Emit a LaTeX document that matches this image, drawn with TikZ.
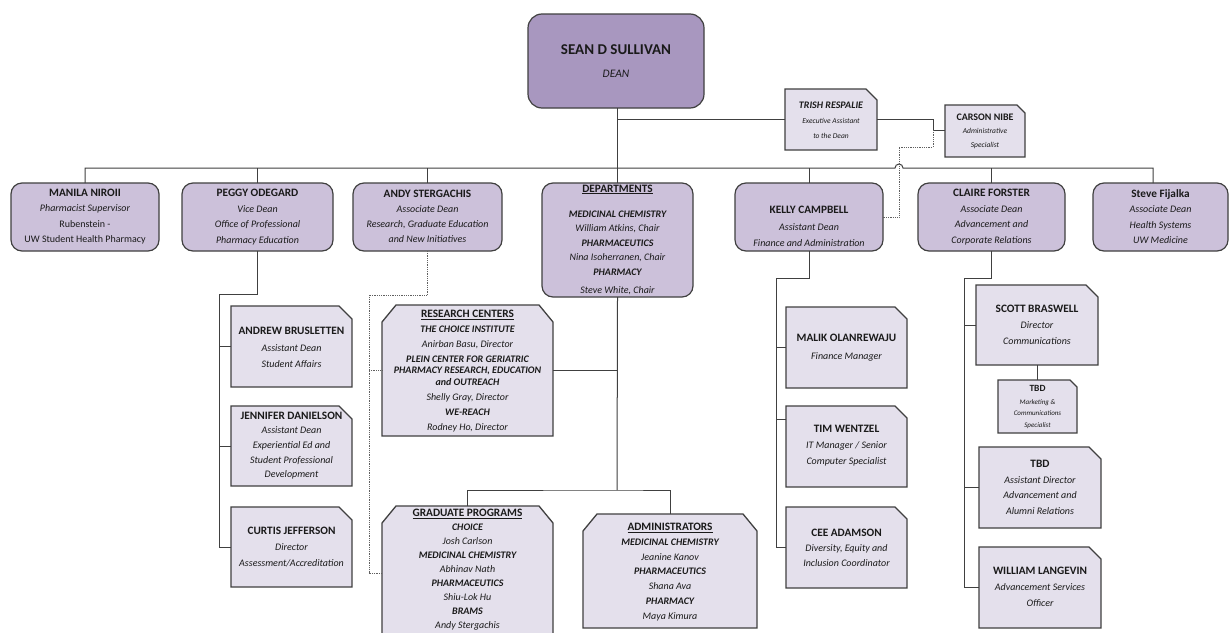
\documentclass[tikz,border=0pt]{standalone}
\usepackage{fontspec}
\setmainfont{Carlito}
\usetikzlibrary{backgrounds}
\definecolor{deanfill}{HTML}{A897BF}
\definecolor{topfill}{HTML}{CCC1DA}
\definecolor{lowfill}{HTML}{E4E0EC}
\definecolor{edge}{HTML}{404040}
\definecolor{ink}{HTML}{1A1A1A}
\newcommand\mkbox[6]{\node[#6, minimum width={#4-#2}, minimum height={#5-#3}] (#1) at ({(#2+#4)/2},{(#3+#5)/2}) {};}
\newcommand\nmtxt[1]{{\fontsize{11.3}{11}\selectfont\bfseries #1}}
\newcommand\roletxt[1]{{\itshape #1}}
\newcommand\hdtxt[1]{{\bfseries\itshape #1}}
\newcommand\uhtxt[1]{{\fontsize{11.3}{11}\selectfont\bfseries\underline{#1}}}
\tikzset{
  base/.style={inner sep=0pt, outer sep=0pt},
  topbox/.style={base, draw=edge, fill=topfill, line width=1.2pt, rounded corners=11pt},
  deanbox/.style={base, draw=edge, fill=deanfill, line width=1.2pt, rounded corners=14pt},
  ghost/.style={base},
  lowshape/.style={draw=edge, fill=lowfill, line width=1.3pt, line join=miter},
  txt/.style={align=center, text=ink, inner sep=0pt, font=\fontsize{10}{15.5}\selectfont},
  deptxt/.style={align=center, text=ink, inner sep=0pt, font=\fontsize{10}{14.7}\selectfont},
  smalltxt/.style={align=center, text=ink, inner sep=0pt, font=\fontsize{7.5}{15}\selectfont},
  link/.style={draw=edge, line width=1pt},
  dotlink/.style={draw=gray!75!black, line width=0.8pt, densely dotted},
}
\begin{document}
\begin{tikzpicture}[x=1pt,y=-1pt]
\useasboundingbox (0,0) rectangle (1230,632);
% ---- boxes ----
\mkbox{dean}{528}{14}{704}{108}{deanbox}
\mkbox{trish}{785}{89}{877}{150}{ghost}
\mkbox{carson}{945}{105}{1025}{157}{ghost}
\mkbox{manila}{11}{183}{159}{251}{topbox}
\mkbox{peggy}{182}{183}{333}{251}{topbox}
\mkbox{andy}{353}{183}{502}{251}{topbox}
\mkbox{dept}{542}{183}{693}{297}{topbox}
\mkbox{kelly}{735}{183}{883}{251}{topbox}
\mkbox{claire}{918}{183}{1065}{251}{topbox}
\mkbox{steve}{1093}{183}{1228}{251}{topbox}
\mkbox{andrew}{231}{306}{352}{387}{ghost}
\mkbox{jennifer}{231}{406}{352}{486}{ghost}
\mkbox{curtis}{231}{507}{352}{587}{ghost}
\mkbox{research}{382}{305}{553}{436}{ghost}
\mkbox{grad}{382}{506}{553}{640}{ghost}
\mkbox{admin}{583}{514}{757}{628}{ghost}
\mkbox{malik}{786}{307}{907}{388}{ghost}
\mkbox{tim}{786}{406}{907}{487}{ghost}
\mkbox{cee}{786}{507}{907}{588}{ghost}
\mkbox{scott}{976}{285}{1098}{365}{ghost}
\mkbox{tbds}{998}{380}{1077}{433}{ghost}
\mkbox{tbd}{979}{447}{1101}{528}{ghost}
\mkbox{william}{979}{547}{1101}{628}{ghost}
% ---- shaped boxes on background ----
\begin{scope}[on background layer]
\fill[white] (0,0) rectangle (1230,632);
\foreach \n/\c in {trish/11,carson/8,andrew/13,jennifer/13,curtis/13,malik/12,tim/12,cee/12,scott/12,tbds/7,tbd/12,william/12}
  \draw[lowshape] (\n.south west) -- (\n.north west) -- ([xshift=-\c pt]\n.north east) -- ([yshift=-\c pt]\n.north east) -- (\n.south east) -- cycle;
\foreach \n in {research,grad,admin}
  \draw[lowshape] (\n.south west) -- ([yshift=-17pt]\n.north west) -- ([xshift=14pt]\n.north west) -- ([xshift=-14pt]\n.north east) -- ([yshift=-17pt]\n.north east) -- (\n.south east) -- cycle;
\end{scope}
% ---- coordinates ----
\coordinate (bus) at (0,168);
\coordinate (hop) at (895,168);
\coordinate (sd) at (1153,183);
\coordinate (tc) at (933,130);
\coordinate (d2) at (899,147);
\coordinate (a1) at (369,295);
\coordinate (pk) at (219,294);
\coordinate (kk) at (776,278);
\coordinate (ck) at (964,278);
\coordinate (dj) at (617,490);
\coordinate (ty) at (0,419);
% ---- connectors ----
\draw[link] (manila.north) -- (manila.north |- bus) -- (hop) arc[start angle=180, end angle=0, radius=4pt] -- (sd |- bus) -- (sd);
\foreach \n in {peggy,andy,kelly,claire}
  \draw[link] (\n.north) -- (\n.north |- bus);
\draw[link] (dean.south -| dept.north) -- (dept.north);
\draw[link] (dean.south -| dept.north) |- (trish.west);
\draw[link] (trish.east) -| (tc) -- (carson.west |- tc);
\draw[dotlink] (tc) |- (d2) |- (kelly.east);
\draw[dotlink] (andy.south) |- (a1) |- (grad.west);
\draw[dotlink] (a1 |- research.west) -- (research.west);
\draw[link] (peggy.south) |- (pk) |- (curtis.west);
\draw[link] (pk |- andrew.west) -- (andrew.west);
\draw[link] (pk |- jennifer.west) -- (jennifer.west);
\draw[link] (dept.south) -- (dj);
\draw[link] (grad.north) |- (dj) -| (admin.north);
\draw[link] (research.east) -- (research.east -| dj);
\draw[link] (kelly.south) |- (kk) |- (cee.west);
\draw[link] (kk |- malik.west) -- (malik.west);
\draw[link] (kk |- ty) -- (tim.west |- ty);
\draw[link] (claire.south) |- (ck) |- (william.west);
\draw[link] (ck |- scott.west) -- (scott.west);
\draw[link] (ck |- tbd.west) -- (tbd.west);
\draw[link] (scott.south) -- (scott.south |- tbds.north);
% ---- texts ----
\node[txt, font=\fontsize{11.5}{23}\selectfont] (deanT) at (616,61) {{\fontsize{15}{14}\selectfont\bfseries SEAN D SULLIVAN}\\\roletxt{DEAN}};
\node[smalltxt] (trishT) at (831,120) {{\fontsize{10}{10}\selectfont\hdtxt{TRISH RESPALIE}}\\\roletxt{Executive Assistant}\\\roletxt{to the Dean}};
\node[smalltxt, font=\fontsize{7.5}{13.5}\selectfont] (carsonT) at (985,131) {{\fontsize{10}{10}\selectfont\bfseries CARSON NIBE}\\\roletxt{Administrative}\\\roletxt{Specialist}};
\node[txt] (manilaT) at (85,216.5) {\nmtxt{MANILA NIROII}\\\roletxt{Pharmacist Supervisor}\\Rubenstein -\\UW Student Health Pharmacy};
\node[txt] (peggyT) at (257.5,217) {\nmtxt{PEGGY ODEGARD}\\\roletxt{Vice Dean}\\\roletxt{Office of Professional}\\\roletxt{Pharmacy Education}};
\node[txt, font=\fontsize{10}{15}\selectfont] (andyT) at (427.5,216.5) {\nmtxt{ANDY STERGACHIS}\\\roletxt{Associate Dean}\\\roletxt{Research, Graduate Education}\\\roletxt{and New Initiatives}};
\node[deptxt, font=\fontsize{10}{14.5}\selectfont] (deptT) at (617.5,239.5) {\uhtxt{DEPARTMENTS}\\[10.5pt]\hdtxt{MEDICINAL CHEMISTRY}\\\roletxt{William Atkins, Chair}\\\hdtxt{PHARMACEUTICS}\\\roletxt{Nina Isoherranen, Chair}\\\hdtxt{PHARMACY}\\[3.5pt]\roletxt{Steve White, Chair}};
\node[txt, font=\fontsize{10}{16.5}\selectfont] (kellyT) at (809,226.5) {\nmtxt{KELLY CAMPBELL}\\\roletxt{Assistant Dean}\\\roletxt{Finance and Administration}};
\node[txt] (claireT) at (991.5,217) {\nmtxt{CLAIRE FORSTER}\\\roletxt{Associate Dean}\\\roletxt{Advancement and}\\\roletxt{Corporate Relations}};
\node[txt] (steveT) at (1160.5,216.5) {\nmtxt{Steve Fijalka}\\\roletxt{Associate Dean}\\\roletxt{Health Systems}\\\roletxt{UW Medicine}};
\node[txt, font=\fontsize{10}{16.5}\selectfont] (andrewT) at (291.5,347.5) {\nmtxt{ANDREW BRUSLETTEN}\\\roletxt{Assistant Dean}\\\roletxt{Student Affairs}};
\node[txt, font=\fontsize{10}{14.7}\selectfont] (jenniferT) at (291.5,445.5) {\nmtxt{JENNIFER DANIELSON}\\\roletxt{Assistant Dean}\\\roletxt{Experiential Ed and}\\\roletxt{Student Professional}\\\roletxt{Development}};
\node[txt, font=\fontsize{10}{16}\selectfont] (curtisT) at (291.5,547) {\nmtxt{CURTIS JEFFERSON}\\\roletxt{Director}\\\roletxt{Assessment/Accreditation}};
\node[deptxt, font=\fontsize{10}{15}\selectfont] (researchT) at (467.5,371) {\uhtxt{RESEARCH CENTERS}\\\hdtxt{THE CHOICE INSTITUTE}\\\roletxt{Anirban Basu, Director}\\\hdtxt{PLEIN CENTER FOR GERIATRIC}\\[-4pt]\hdtxt{PHARMACY RESEARCH, EDUCATION}\\[-3pt]\hdtxt{and OUTREACH}\\\roletxt{Shelly Gray, Director}\\\hdtxt{WE-REACH}\\\roletxt{Rodney Ho, Director}};
\node[deptxt, font=\fontsize{10}{14}\selectfont] (gradT) at (467.5,570) {\uhtxt{GRADUATE PROGRAMS}\\\hdtxt{CHOICE}\\\roletxt{Josh Carlson}\\\hdtxt{MEDICINAL CHEMISTRY}\\\roletxt{Abhinav Nath}\\\hdtxt{PHARMACEUTICS}\\\roletxt{Shiu-Lok Hu}\\\hdtxt{BRAMS}\\\roletxt{Andy Stergachis}};
\node[deptxt] (adminT) at (670,572) {\uhtxt{ADMINISTRATORS}\\\hdtxt{MEDICINAL CHEMISTRY}\\\roletxt{Jeanine Kanov}\\\hdtxt{PHARMACEUTICS}\\\roletxt{Shana Ava}\\\hdtxt{PHARMACY}\\\roletxt{Maya Kimura}};
\node[txt, font=\fontsize{10}{18}\selectfont] (malikT) at (846.5,347.5) {\nmtxt{MALIK OLANREWAJU}\\\roletxt{Finance Manager}};
\node[txt, font=\fontsize{10}{16}\selectfont] (timT) at (846.5,446) {\nmtxt{TIM WENTZEL}\\\roletxt{IT Manager / Senior}\\\roletxt{Computer Specialist}};
\node[txt, font=\fontsize{10}{15}\selectfont] (ceeT) at (846.5,548) {\nmtxt{CEE ADAMSON}\\\roletxt{Diversity, Equity and}\\\roletxt{Inclusion Coordinator}};
\node[txt, font=\fontsize{10}{16}\selectfont] (scottT) at (1037,325) {\nmtxt{SCOTT BRASWELL}\\\roletxt{Director}\\\roletxt{Communications}};
\node[smalltxt, font=\fontsize{7}{12.5}\selectfont] (tbdsT) at (1037.5,407) {{\fontsize{9.5}{9}\selectfont\bfseries TBD}\\\roletxt{Marketing \&}\\[-1.5pt]\roletxt{Communications}\\\roletxt{Specialist}};
\node[txt] (tbdT) at (1040,487.5) {\nmtxt{TBD}\\\roletxt{Assistant Director}\\\roletxt{Advancement and}\\\roletxt{Alumni Relations}};
\node[txt, font=\fontsize{10}{16}\selectfont] (williamT) at (1040,587) {\nmtxt{WILLIAM LANGEVIN}\\\roletxt{Advancement Services}\\\roletxt{Officer}};
\end{tikzpicture}
\end{document}
